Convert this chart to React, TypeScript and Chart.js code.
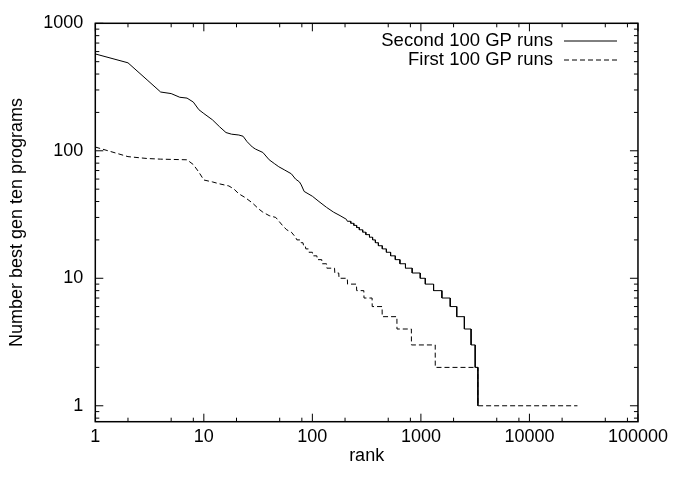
import React, { useEffect, useRef } from 'react';
import { Chart, registerables } from 'chart.js';

Chart.register(...registerables);

const seriesLabels = ['Second 100 GP runs', 'First 100 GP runs'];

const secondRanks = [
  1, 2, 3, 4, 5, 6, 7, 8, 9, 10, 12, 14, 16, 18, 21, 23, 25, 28, 30, 35, 40, 45, 49, 55, 64, 70, 76, 79, 84, 100, 115, 135, 157, 180, 206,
  210, 225, 226, 240, 241, 255, 256, 270, 271, 290, 291, 310, 311, 335, 336, 358, 359, 380, 381, 405, 406, 440, 441, 480,
  481, 525, 526, 580, 581, 640, 641, 720, 721, 830, 831, 985, 986, 1097, 1098, 1308, 1309, 1560, 1561, 1862, 1863, 2139,
  2140, 2514, 2515, 2899, 2900, 3162, 3163, 3350, 3351,
];
const secondCounts = [
  575, 490, 360, 289, 281, 263, 259, 241, 210, 196, 175, 154, 139, 135, 133, 130, 118, 107, 103, 97, 85, 79, 75, 71, 66, 60, 57, 54, 48, 44, 40, 36, 33, 31, 29,
  28, 28, 27, 27, 26, 26, 25, 25, 24, 24, 23, 23, 22, 22, 21, 21, 20, 20, 19, 19, 18, 18, 17, 17,
  16, 16, 15, 15, 14, 14, 13, 13, 12, 12, 11, 11, 10, 10, 9, 9, 8, 8, 7, 7, 6, 6,
  5, 5, 4, 4, 3, 3, 2, 2, 1,
];

const firstRanks = [
  1, 2, 3, 4, 7, 8, 9, 10, 12, 14, 17, 19, 21, 24, 28, 32, 35, 40, 46, 53, 58, 64, 70,
  72, 78, 79, 82, 83, 86, 87, 92, 93, 100, 101, 110, 111, 122, 123, 135, 136, 160, 161, 175, 176, 210,
  211, 255, 256, 298, 299, 355, 356, 439, 440, 601, 602, 817, 818, 1355, 1356, 3343, 3344, 27700,
];
const firstCounts = [
  107, 90, 87, 86, 85, 78, 68, 59, 57, 55, 53, 50, 46, 43, 39, 35, 33, 31, 30, 26, 24, 23, 21,
  20, 20, 19, 19, 18, 18, 17, 17, 16, 16, 15, 15, 14, 14, 13, 13, 12, 12, 11, 11, 10, 10,
  9, 9, 8, 8, 7, 7, 6, 6, 5, 5, 4, 4, 3, 3, 2, 2, 1, 1,
];

const xTickValues = [1, 10, 100, 1000, 10000, 100000];
const yTickValues = [1, 10, 100, 1000];
const xMinorMultipliers = [2, 5, 8];
const yMinorMultipliers = [2, 3, 4, 5, 6, 7, 8, 9];

const FONT = "'Liberation Sans', Arial, Helvetica, sans-serif";

const gnuFramePlugin = {
  id: 'gnuFrame',
  afterDatasetsDraw(chart: any) {
    const { ctx, chartArea: a, scales } = chart;
    const xs = scales.x;
    const ys = scales.y;
    ctx.save();
    ctx.strokeStyle = '#000';
    ctx.lineWidth = 1;
    ctx.beginPath();
    const xTick = (v: number, len: number) => {
      const px = xs.getPixelForValue(v);
      ctx.moveTo(px, a.bottom);
      ctx.lineTo(px, a.bottom - len);
      ctx.moveTo(px, a.top);
      ctx.lineTo(px, a.top + len);
    };
    const yTick = (v: number, len: number) => {
      const py = ys.getPixelForValue(v);
      ctx.moveTo(a.left, py);
      ctx.lineTo(a.left + len, py);
      ctx.moveTo(a.right, py);
      ctx.lineTo(a.right - len, py);
    };
    xTickValues.forEach((v) => xTick(v, 8));
    xTickValues.slice(0, -1).forEach((d) => xMinorMultipliers.forEach((m) => xTick(d * m, 4)));
    yTickValues.forEach((v) => yTick(v, 8));
    [0.1, ...yTickValues.slice(0, -1)].forEach((d) =>
      yMinorMultipliers.forEach((m) => {
        const v = d * m;
        if (v >= ys.min && v <= ys.max) yTick(v, 4);
      })
    );
    ctx.stroke();
    ctx.lineWidth = 1.5;
    ctx.strokeRect(a.left, a.top, a.right - a.left, a.bottom - a.top);

    // legend (gnuplot style: text right-aligned, line sample on the right)
    ctx.font = `18.5px ${FONT}`;
    ctx.fillStyle = '#000';
    ctx.textAlign = 'right';
    ctx.textBaseline = 'middle';
    chart.data.datasets.forEach((ds: any, i: number) => {
      const y = 41 + i * 19;
      ctx.fillText(ds.label, 553, y);
      ctx.save();
      ctx.lineWidth = ds.borderWidth;
      ctx.setLineDash(ds.borderDash || []);
      ctx.beginPath();
      ctx.moveTo(564, y);
      ctx.lineTo(617, y);
      ctx.stroke();
      ctx.restore();
    });
    ctx.restore();
  },
};

export default function App() {
  const canvasRef = useRef<HTMLCanvasElement>(null);

  useEffect(() => {
    if (!canvasRef.current) return;
    Chart.defaults.font.family = FONT;
    const chart = new Chart(canvasRef.current, {
      type: 'line',
      data: {
        datasets: [
          {
            label: seriesLabels[0],
            data: secondRanks.map((r, i) => ({ x: r, y: secondCounts[i] })),
            borderColor: '#000',
            borderWidth: 1,
            pointRadius: 0,
            tension: 0,
            fill: false,
          },
          {
            label: seriesLabels[1],
            data: firstRanks.map((r, i) => ({ x: r, y: firstCounts[i] })),
            borderColor: '#000',
            borderWidth: 1,
            borderDash: [5, 3],
            pointRadius: 0,
            tension: 0,
            fill: false,
          },
        ],
      },
      options: {
        animation: false,
        responsive: false,
        maintainAspectRatio: false,
        events: [],
        layout: { padding: { left: 0, top: 23.3, right: 32.7, bottom: 0 } },
        plugins: {
          legend: { display: false },
          tooltip: { enabled: false },
        },
        scales: {
          x: {
            type: 'logarithmic',
            min: 1,
            max: 100000,
            grid: { display: false, drawTicks: false },
            border: { display: false },
            afterBuildTicks: (scale: any) => {
              scale.ticks = xTickValues.map((v) => ({ value: v, major: true }));
            },
            afterFit: (scale: any) => {
              scale.height = 477 - 421.7;
            },
            ticks: {
              autoSkip: false,
              maxRotation: 0,
              padding: 5,
              color: '#000',
              font: { size: 18, family: FONT },
              callback: (v: any) => String(v),
            },
            title: {
              display: true,
              text: 'rank',
              color: '#000',
              font: { size: 18, family: FONT },
              padding: { top: 0, bottom: 10 },
            },
          },
          y: {
            type: 'logarithmic',
            min: 0.75,
            max: 1000,
            grid: { display: false, drawTicks: false },
            border: { display: false },
            afterBuildTicks: (scale: any) => {
              scale.ticks = yTickValues.map((v) => ({ value: v, major: true }));
            },
            afterFit: (scale: any) => {
              scale.width = 95.3;
            },
            ticks: {
              autoSkip: false,
              padding: 12,
              color: '#000',
              font: { size: 18, family: FONT },
              callback: (v: any) => String(v),
            },
            title: {
              display: true,
              text: 'Number best gen ten programs',
              color: '#000',
              font: { size: 18, family: FONT },
              padding: { top: 6, bottom: 0 },
            },
          },
        },
      },
      plugins: [gnuFramePlugin],
    });
    return () => chart.destroy();
  }, []);

  return (
    <div style={{ position: 'fixed', left: 0, top: 0, width: 673, height: 477, background: '#fff' }}>
      <canvas ref={canvasRef} width={673} height={477} style={{ width: 673, height: 477, display: 'block' }} />
    </div>
  );
}
